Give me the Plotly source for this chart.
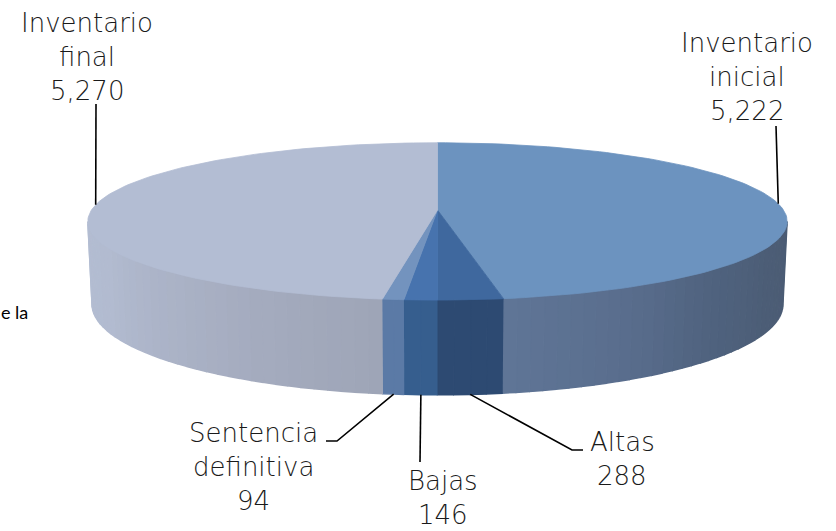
import math
import plotly.graph_objects as go

# --- data ---
categories = ["Inventario inicial", "Altas", "Bajas", "Sentencia definitiva", "Inventario final"]
label_lines = [["Inventario", "inicial"], ["Altas"], ["Bajas"], ["Sentencia", "definitiva"], ["Inventario", "final"]]
values = [5222, 288, 146, 94, 5270]

top_colors = ["#6C93BF", "#3F689E", "#4773AE", "#7393BE", "#B3BDD3"]
wall_colors = [
    ["#4B5C74", "#4C5D76", "#4F627E", "#5A6E8E", "#5F7596"],
    ["#2D4A72", "#2D4A72"],
    ["#365E8E", "#365E8E"],
    ["#5B7AA6", "#5B7AA6"],
    ["#9EA5B7", "#A4ABBE", "#ABB3C7", "#B2BBD0", "#B3BDD2"],
]

# --- projection of the tilted disc ---
CX, CY = 437.5, 210
R, H, K = 346, 77, 0.145
WALL = 81
W, HT = 836, 531


def project(deg, drop=0.0):
    t = math.radians(deg)
    s = 1 / (1 + K * math.cos(t))
    x = R * math.sin(t) * s
    y = -H * math.cos(t) * s
    if drop:
        return CX + x * (1 - 0.012 * drop), CY + y + WALL * s * drop
    return CX + x, CY + y


def hex_rgb(c):
    return [int(c[i:i + 2], 16) for i in (1, 3, 5)]


def mix(stops, f):
    if len(stops) == 1:
        return stops[0]
    p = max(0, min(1, f)) * (len(stops) - 1)
    i = min(int(p), len(stops) - 2)
    a, b = hex_rgb(stops[i]), hex_rgb(stops[i + 1])
    u = p - i
    return "rgb(%d,%d,%d)" % tuple(round(a[j] + (b[j] - a[j]) * u) for j in range(3))


total = sum(values)
bounds = [0]
for v in values:
    bounds.append(bounds[-1] + v / total * 360)

fig = go.Figure()


def poly(pts, color, lw=0.8):
    fig.add_trace(go.Scatter(
        x=[p[0] for p in pts], y=[p[1] for p in pts], mode="lines", fill="toself",
        fillcolor=color, line=dict(color=color, width=lw), hoverinfo="skip", showlegend=False))


# walls: only the part in front of the disc's silhouette
edge = math.degrees(math.acos(-K))
for i in range(len(values)):
    a = max(bounds[i], edge)
    b = min(bounds[i + 1], 360 - edge)
    if b <= a:
        continue
    n = max(2, int((b - a) / 2))
    for j in range(n):
        a0 = a + (b - a) * j / n
        a1 = a + (b - a) * (j + 1) / n
        f = (j + 0.5) / n
        samples = [a0 + (a1 - a0) * q / 3 for q in range(4)]
        pts = [project(d) for d in samples] + [project(d, 1) for d in reversed(samples)]
        poly(pts, mix(wall_colors[i], f), 1.5)

# top faces
for i in range(len(values)):
    a, b = bounds[i], bounds[i + 1]
    n = max(4, int((b - a) / 1.5))
    pts = [(CX, CY)] + [project(a + (b - a) * q / n) for q in range(n + 1)] + [(CX, CY)]
    poly(pts, top_colors[i])

# leader lines, anchored at each slice's middle on the rim
mid = [(bounds[i] + bounds[i + 1]) / 2 for i in range(len(values))]
leader_ends = [
    [(776, 126)],
    [(572, 450), (583, 450)],
    [(420, 462)],
    [(337, 441), (326, 441)],
    [(96, 104)],
]
for i in range(len(values)):
    start = project(mid[i]) if i in (0, 4) else project(mid[i], 1)
    pts = [start] + leader_ends[i]
    fig.add_trace(go.Scatter(
        x=[p[0] for p in pts], y=[p[1] for p in pts], mode="lines",
        line=dict(color="#000000", width=1.6), hoverinfo="skip", showlegend=False))

# labels: centre x and y of the first line
label_pos = [(747, 43), (622, 442), (443, 481), (253, 433), (87, 23)]
LINE = 34
annotations = []
for i in range(len(values)):
    lines = label_lines[i] + [f"{values[i]:,}"]
    x, y0 = label_pos[i]
    for k, t in enumerate(lines):
        annotations.append(dict(
            x=x, y=y0 + k * LINE, text=t, showarrow=False, xanchor="center", yanchor="middle",
            font=dict(family="DejaVu Sans", size=26, color="#1a1a1a", weight=200)))
annotations.append(dict(
    x=30, y=312, text="e la", showarrow=False, xanchor="right", yanchor="middle",
    font=dict(family="Lato", size=18, color="#000000")))

fig.update_layout(
    width=W, height=HT, margin=dict(l=0, r=0, t=0, b=0),
    paper_bgcolor="white", plot_bgcolor="white", annotations=annotations,
    xaxis=dict(range=[0, W], visible=False, fixedrange=True),
    yaxis=dict(range=[HT, 0], visible=False, fixedrange=True),
)
fig.write_html("out.html", config={"displayModeBar": False},
               post_script="document.body.style.margin='0';document.body.style.overflow='hidden';")
